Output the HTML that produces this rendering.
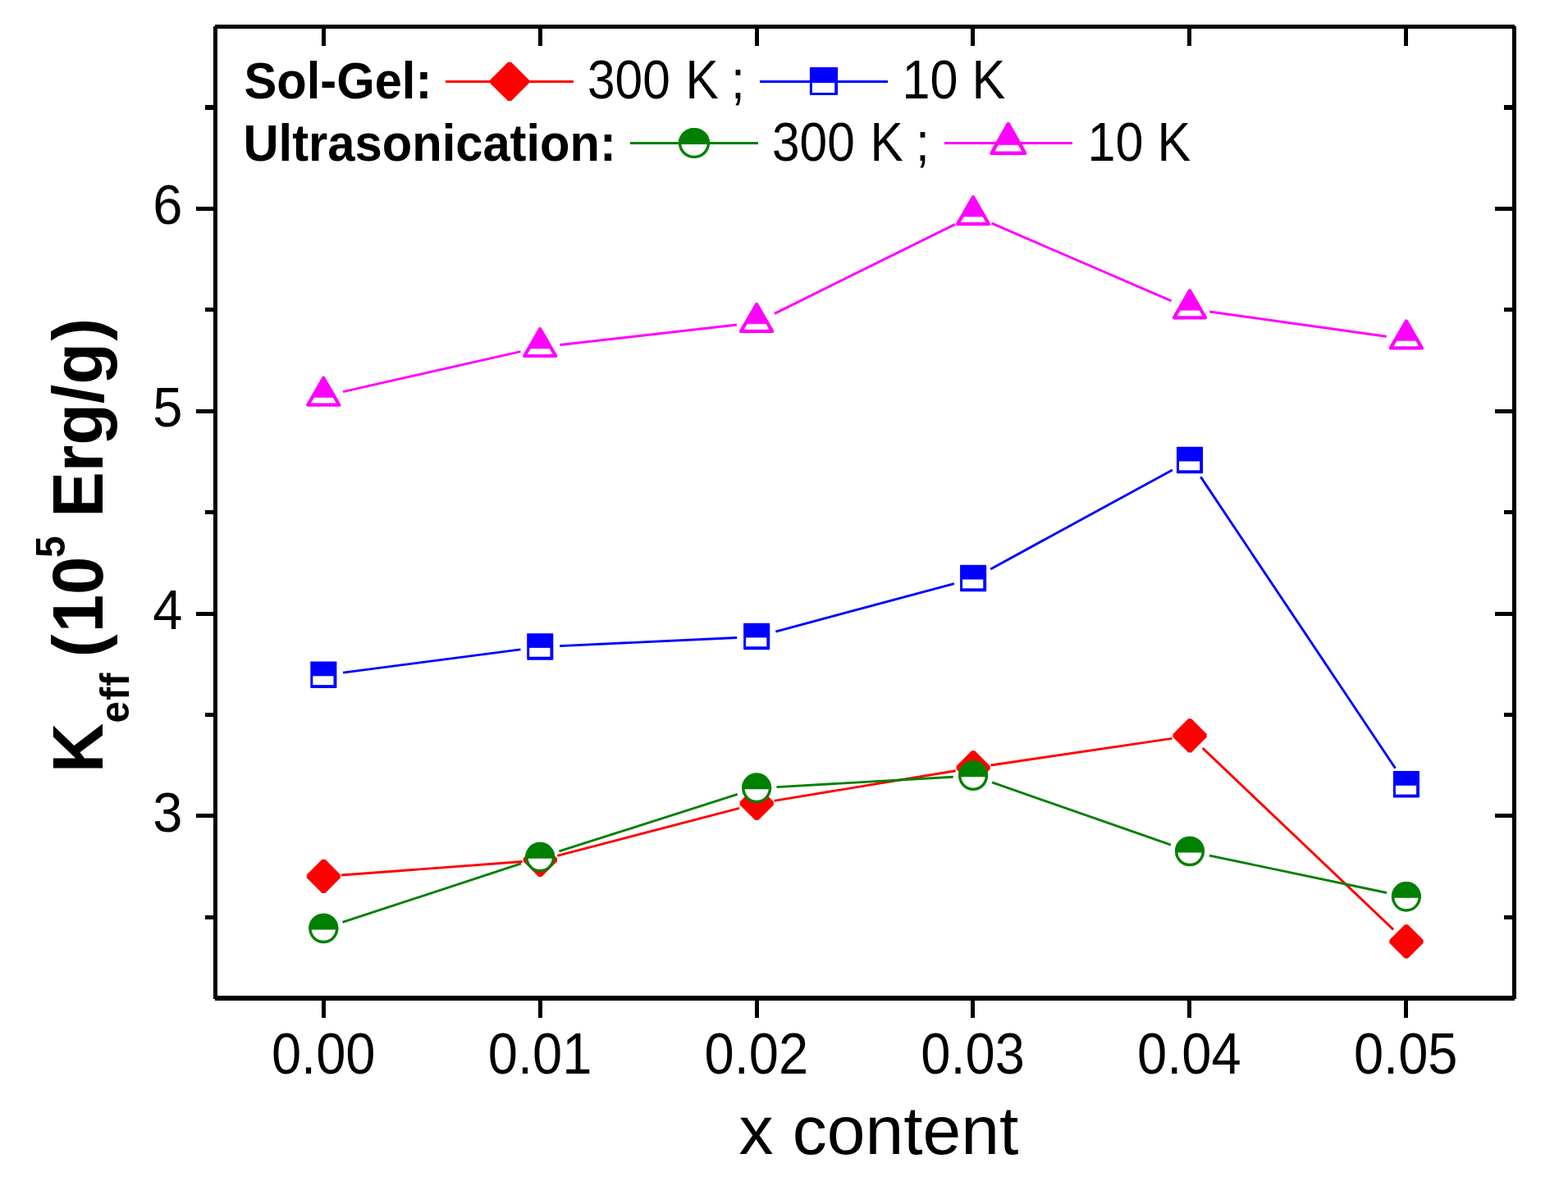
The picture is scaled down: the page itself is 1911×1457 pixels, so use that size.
<!DOCTYPE html>
<html lang="en">
<head>
<meta charset="utf-8">
<title>K_eff vs x content</title>
<style>
html,body{margin:0;padding:0;background:#fff;}
body{width:1911px;height:1457px;overflow:hidden;}
svg{display:block;}
text{white-space:pre;}
</style>
</head>
<body>
<svg width="1911" height="1457" viewBox="0 0 1911 1457" font-family='"Liberation Sans", Arial, Helvetica, sans-serif' role="img" aria-label="Effective anisotropy constant versus x content">
<rect width="1911" height="1457" fill="#fff"/>
<g stroke="#ff0000" stroke-width="2.9" fill="none">
<line x1="415.94" y1="1067.07" x2="636.58" y2="1050.43"/>
<line x1="679.22" y1="1043.32" x2="901.14" y2="985.38"/>
<line x1="943.55" y1="976.36" x2="1164.65" y2="939.74"/>
<line x1="1207.53" y1="933.03" x2="1428.51" y2="900.37"/>
<line x1="1465.7" y1="912.16" x2="1698.18" y2="1133.34"/>
</g>
<g>
<polygon points="392.5,1047.7 396.3,1047.7 415,1066.4 415,1070.2 396.3,1088.9 392.5,1088.9 373.8,1070.2 373.8,1066.4" fill="#ff0000"/>
<polygon points="656.42,1027.8 660.22,1027.8 678.92,1046.5 678.92,1050.3 660.22,1069 656.42,1069 637.72,1050.3 637.72,1046.5" fill="#ff0000"/>
<polygon points="920.34,958.9 924.14,958.9 942.84,977.6 942.84,981.4 924.14,1000.1 920.34,1000.1 901.64,981.4 901.64,977.6" fill="#ff0000"/>
<polygon points="1184.26,915.2 1188.06,915.2 1206.76,933.9 1206.76,937.7 1188.06,956.4 1184.26,956.4 1165.56,937.7 1165.56,933.9" fill="#ff0000"/>
<polygon points="1448.18,876.2 1451.98,876.2 1470.68,894.9 1470.68,898.7 1451.98,917.4 1448.18,917.4 1429.48,898.7 1429.48,894.9" fill="#ff0000"/>
<polygon points="1712.1,1127.3 1715.9,1127.3 1734.6,1146 1734.6,1149.8 1715.9,1168.5 1712.1,1168.5 1693.4,1149.8 1693.4,1146" fill="#ff0000"/>
</g>
<g stroke="#0000ff" stroke-width="2.9" fill="none">
<line x1="418.1" y1="820.1" x2="634.42" y2="791.9"/>
<line x1="682.19" y1="787.66" x2="898.17" y2="777.44"/>
<line x1="945.32" y1="770.07" x2="1162.88" y2="711.63"/>
<line x1="1207.13" y1="693.9" x2="1428.91" y2="572.9"/>
<line x1="1463.31" y1="581.36" x2="1700.57" y2="936.74"/>
</g>
<g>
<rect x="378.3" y="806.55" width="32.1" height="32.5" rx="0.8" fill="#0000ff"/>
<rect x="381.3" y="824.3" width="25.2" height="10.85" fill="#fff"/>
<rect x="642.22" y="772.15" width="32.1" height="32.5" rx="0.8" fill="#0000ff"/>
<rect x="645.22" y="789.9" width="25.2" height="10.85" fill="#fff"/>
<rect x="906.14" y="759.65" width="32.1" height="32.5" rx="0.8" fill="#0000ff"/>
<rect x="909.14" y="777.4" width="25.2" height="10.85" fill="#fff"/>
<rect x="1170.06" y="688.75" width="32.1" height="32.5" rx="0.8" fill="#0000ff"/>
<rect x="1173.06" y="706.5" width="25.2" height="10.85" fill="#fff"/>
<rect x="1433.98" y="544.75" width="32.1" height="32.5" rx="0.8" fill="#0000ff"/>
<rect x="1436.98" y="562.5" width="25.2" height="10.85" fill="#fff"/>
<rect x="1697.9" y="940.05" width="32.1" height="32.5" rx="0.8" fill="#0000ff"/>
<rect x="1700.9" y="957.8" width="25.2" height="10.85" fill="#fff"/>
</g>
<g stroke="#008000" stroke-width="2.9" fill="none">
<line x1="417.48" y1="1124.48" x2="635.04" y2="1052.92"/>
<line x1="681.46" y1="1037.88" x2="898.9" y2="968.42"/>
<line x1="946.5" y1="959.61" x2="1161.7" y2="947.29"/>
<line x1="1209.09" y1="953.95" x2="1426.95" y2="1030.05"/>
<line x1="1473.86" y1="1043.11" x2="1690.02" y2="1088.49"/>
</g>
<g>
<ellipse cx="394.3" cy="1131.95" rx="16.35" ry="16.6" fill="#fff" stroke="#008000" stroke-width="3.4"/>
<path d="M376.31,1133.45 A18.05,18.3 0 1 1 412.29,1133.45 Z" fill="#008000"/>
<ellipse cx="658.22" cy="1045.15" rx="16.35" ry="16.6" fill="#fff" stroke="#008000" stroke-width="3.4"/>
<path d="M640.23,1046.65 A18.05,18.3 0 1 1 676.21,1046.65 Z" fill="#008000"/>
<ellipse cx="922.14" cy="960.85" rx="16.35" ry="16.6" fill="#fff" stroke="#008000" stroke-width="3.4"/>
<path d="M904.15,962.35 A18.05,18.3 0 1 1 940.13,962.35 Z" fill="#008000"/>
<ellipse cx="1186.06" cy="945.75" rx="16.35" ry="16.6" fill="#fff" stroke="#008000" stroke-width="3.4"/>
<path d="M1168.07,947.25 A18.05,18.3 0 1 1 1204.05,947.25 Z" fill="#008000"/>
<ellipse cx="1449.98" cy="1037.95" rx="16.35" ry="16.6" fill="#fff" stroke="#008000" stroke-width="3.4"/>
<path d="M1431.99,1039.45 A18.05,18.3 0 1 1 1467.97,1039.45 Z" fill="#008000"/>
<ellipse cx="1713.9" cy="1093.35" rx="16.35" ry="16.6" fill="#fff" stroke="#008000" stroke-width="3.4"/>
<path d="M1695.91,1094.85 A18.05,18.3 0 1 1 1731.89,1094.85 Z" fill="#008000"/>
</g>
<g stroke="#ff00ff" stroke-width="2.9" fill="none">
<line x1="418.1" y1="477.62" x2="634.42" y2="428.68"/>
<line x1="682.46" y1="420.54" x2="897.9" y2="395.96"/>
<line x1="944.01" y1="382.37" x2="1164.19" y2="273.33"/>
<line x1="1208.46" y1="272.18" x2="1427.58" y2="366.92"/>
<line x1="1474.14" y1="380" x2="1689.74" y2="410.3"/>
</g>
<g>
<polygon points="394.3,460.8 413.35,493.7 375.25,493.7" fill="#fff" stroke="#ff00ff" stroke-width="4.2" stroke-linejoin="round"/>
<polygon points="394.3,460.8 408.08,484.6 380.52,484.6" fill="#ff00ff" stroke="#ff00ff" stroke-width="0.6"/>
<polygon points="658.22,401.09 677.27,434 639.17,434" fill="#fff" stroke="#ff00ff" stroke-width="4.2" stroke-linejoin="round"/>
<polygon points="658.22,401.09 672,424.9 644.44,424.9" fill="#ff00ff" stroke="#ff00ff" stroke-width="0.6"/>
<polygon points="922.14,371 941.19,403.9 903.09,403.9" fill="#fff" stroke="#ff00ff" stroke-width="4.2" stroke-linejoin="round"/>
<polygon points="922.14,371 935.92,394.8 908.36,394.8" fill="#ff00ff" stroke="#ff00ff" stroke-width="0.6"/>
<polygon points="1186.06,240.3 1205.11,273.2 1167.01,273.2" fill="#fff" stroke="#ff00ff" stroke-width="4.2" stroke-linejoin="round"/>
<polygon points="1186.06,240.3 1199.84,264.1 1172.28,264.1" fill="#ff00ff" stroke="#ff00ff" stroke-width="0.6"/>
<polygon points="1449.98,354.39 1469.03,387.3 1430.93,387.3" fill="#fff" stroke="#ff00ff" stroke-width="4.2" stroke-linejoin="round"/>
<polygon points="1449.98,354.39 1463.76,378.2 1436.2,378.2" fill="#ff00ff" stroke="#ff00ff" stroke-width="0.6"/>
<polygon points="1713.9,391.5 1732.95,424.4 1694.85,424.4" fill="#fff" stroke="#ff00ff" stroke-width="4.2" stroke-linejoin="round"/>
<polygon points="1713.9,391.5 1727.68,415.3 1700.12,415.3" fill="#ff00ff" stroke="#ff00ff" stroke-width="0.6"/>
</g>
<g fill="#000" shape-rendering="crispEdges">
<rect x="262" y="30" width="1584" height="5" fill="#000"/>
<rect x="262" y="1214" width="1584" height="5.5" fill="#000"/>
<rect x="260" y="32" width="5" height="1185.5" fill="#000"/>
<rect x="1843" y="32" width="5" height="1185.5" fill="#000"/>
<rect x="392" y="35" width="5" height="21" fill="#000"/>
<rect x="392" y="1219.5" width="5" height="21.5" fill="#000"/>
<rect x="655.8" y="35" width="5" height="21" fill="#000"/>
<rect x="655.8" y="1219.5" width="5" height="21.5" fill="#000"/>
<rect x="919.6" y="35" width="5" height="21" fill="#000"/>
<rect x="919.6" y="1219.5" width="5" height="21.5" fill="#000"/>
<rect x="1183.4" y="35" width="5" height="21" fill="#000"/>
<rect x="1183.4" y="1219.5" width="5" height="21.5" fill="#000"/>
<rect x="1447.2" y="35" width="5" height="21" fill="#000"/>
<rect x="1447.2" y="1219.5" width="5" height="21.5" fill="#000"/>
<rect x="1711" y="35" width="5" height="21" fill="#000"/>
<rect x="1711" y="1219.5" width="5" height="21.5" fill="#000"/>
<rect x="239" y="252" width="21" height="5" fill="#000"/>
<rect x="1822" y="252" width="21" height="5" fill="#000"/>
<rect x="239" y="498.83" width="21" height="5" fill="#000"/>
<rect x="1822" y="498.83" width="21" height="5" fill="#000"/>
<rect x="239" y="745.66" width="21" height="5" fill="#000"/>
<rect x="1822" y="745.66" width="21" height="5" fill="#000"/>
<rect x="239" y="992.49" width="21" height="5" fill="#000"/>
<rect x="1822" y="992.49" width="21" height="5" fill="#000"/>
<rect x="250" y="127.58" width="10" height="6" fill="#000"/>
<rect x="1833" y="127.58" width="10" height="6" fill="#000"/>
<rect x="250" y="375.42" width="10" height="5" fill="#000"/>
<rect x="1833" y="375.42" width="10" height="5" fill="#000"/>
<rect x="250" y="622.25" width="10" height="5" fill="#000"/>
<rect x="1833" y="622.25" width="10" height="5" fill="#000"/>
<rect x="250" y="869.08" width="10" height="5" fill="#000"/>
<rect x="1833" y="869.08" width="10" height="5" fill="#000"/>
<rect x="250" y="1115.91" width="10" height="5" fill="#000"/>
<rect x="1833" y="1115.91" width="10" height="5" fill="#000"/>
</g>
<g fill="#000">
<text transform="translate(394.2,1308.6) scale(0.971,1.038)" font-size="67" text-anchor="middle">0.00</text>
<text transform="translate(658,1308.6) scale(0.971,1.038)" font-size="67" text-anchor="middle">0.01</text>
<text transform="translate(921.8,1308.6) scale(0.971,1.038)" font-size="67" text-anchor="middle">0.02</text>
<text transform="translate(1185.6,1308.6) scale(0.971,1.038)" font-size="67" text-anchor="middle">0.03</text>
<text transform="translate(1449.4,1308.6) scale(0.971,1.038)" font-size="67" text-anchor="middle">0.04</text>
<text transform="translate(1713.2,1308.6) scale(0.971,1.038)" font-size="67" text-anchor="middle">0.05</text>
<text transform="translate(222.5,273.1) scale(0.971,1.025)" font-size="67" text-anchor="end">6</text>
<text transform="translate(222.5,519.93) scale(0.971,1.025)" font-size="67" text-anchor="end">5</text>
<text transform="translate(222.5,766.76) scale(0.971,1.025)" font-size="67" text-anchor="end">4</text>
<text transform="translate(222.5,1013.59) scale(0.971,1.025)" font-size="67" text-anchor="end">3</text>
</g>
<g fill="#000">
<text transform="translate(900.5,1406.8) scale(1,1)" font-size="84">x content</text>
<text transform="translate(125.3,942) rotate(-90) scale(0.992,1.035)" font-size="84" font-weight="bold"><tspan x="0" y="0">K</tspan><tspan x="60.99" y="30.92" font-size="48" letter-spacing="1.4">eff</tspan><tspan x="118.45" y="0"> (</tspan><tspan dx="2.32">10</tspan><tspan x="264.11" y="-44.44" font-size="48">5</tspan><tspan x="290.32" y="0"> Erg/g</tspan><tspan dx="2.52">)</tspan></text>
</g>
<g fill="#000">
<text transform="translate(297.5,119.7) scale(0.995,1.035)" font-size="60" font-weight="bold">Sol-Gel:</text>
<text transform="translate(296.5,195.9) scale(0.995,1.035)" font-size="60" font-weight="bold">Ultrasonication:</text>
<text transform="translate(716,120.3) scale(0.974,1.066)" font-size="62">300 <tspan dx="2">K</tspan><tspan dx="-1.6"> ;</tspan></text>
<text transform="translate(1099.5,120.3) scale(0.985,1.066)" font-size="62">10 K</text>
<text transform="translate(941,196) scale(0.974,1.066)" font-size="62">300 <tspan dx="2">K</tspan><tspan dx="-1.6"> ;</tspan></text>
<text transform="translate(1325.5,196) scale(0.985,1.066)" font-size="62">10 K</text>
</g>
<rect x="543" y="98" width="156" height="3" fill="#ff0000" shape-rendering="crispEdges"/>
<polygon points="619.05,75.7 623.05,75.7 644.75,97.4 644.75,101.4 623.05,123.1 619.05,123.1 597.35,101.4 597.35,97.4" fill="#ff0000"/>
<rect x="986.9" y="81.95" width="34.2" height="34.1" rx="0.8" fill="#0000ff"/>
<rect x="989.9" y="100.9" width="27.3" height="12.15" fill="#fff"/>
<rect x="926" y="98" width="156" height="3" fill="#0000ff" shape-rendering="crispEdges"/>
<ellipse cx="846" cy="174.5" rx="17.4" ry="16.9" fill="#fff" stroke="#008000" stroke-width="3.4"/>
<path d="M826.96,176 A19.1,18.6 0 1 1 865.04,176 Z" fill="#008000"/>
<rect x="768" y="173" width="156" height="3" fill="#008000" shape-rendering="crispEdges"/>
<polygon points="1228.8,151.24 1249.15,186.85 1208.45,186.85" fill="#fff" stroke="#ff00ff" stroke-width="4.5" stroke-linejoin="round"/>
<polygon points="1228.8,151.24 1243.24,176.5 1214.36,176.5" fill="#ff00ff" stroke="#ff00ff" stroke-width="0.6"/>
<rect x="1151" y="173" width="156" height="3" fill="#ff00ff" shape-rendering="crispEdges"/>
</svg>
</body>
</html>
